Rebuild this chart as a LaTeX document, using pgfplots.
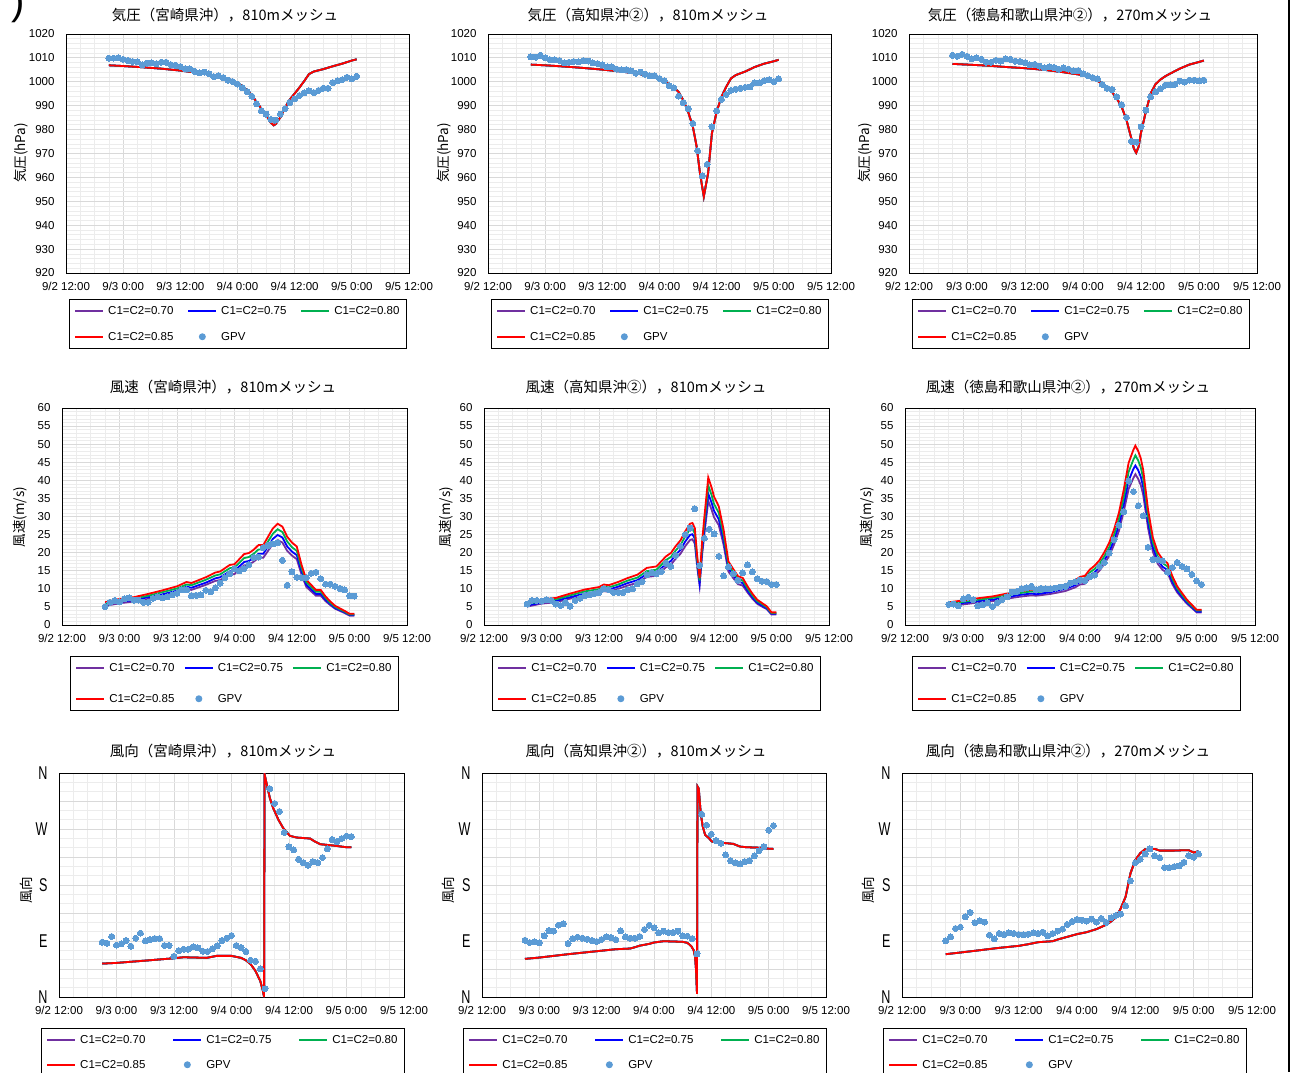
\documentclass[border=0pt]{standalone}
\usepackage{fontspec}
\setmainfont{Liberation Sans}
\newfontfamily\cjk{Noto Sans CJK JP}
\newfontfamily\dirfont[FakeStretch=0.68]{Liberation Sans}
\usepackage{pgfplots}
\usepackage{pgfplotstable}
\pgfplotsset{compat=1.18}
\definecolor{colA}{RGB}{112,48,160}
\definecolor{colB}{RGB}{0,0,255}
\definecolor{colC}{RGB}{0,176,80}
\definecolor{colD}{RGB}{255,0,0}
\definecolor{gpvc}{RGB}{91,155,213}
\definecolor{gmaj}{RGB}{217,217,217}
\definecolor{gmin}{RGB}{236,236,236}

% ---------- GPV (hourly) : a = Miyazaki, b = Kochi2, c = Tokushima-Wakayama2
\pgfplotstableread{
t a b c
9 1009.9 1010.4 1011.1
10 1009.9 1010.3 1010.7
11 1010.1 1011.1 1011.5
12 1009.4 1010.0 1010.7
13 1008.9 1009.3 1009.6
14 1008.5 1009.2 1010.0
15 1008.3 1008.9 1009.4
16 1007.1 1007.9 1008.2
17 1007.8 1008.2 1008.2
18 1007.9 1008.5 1009.0
19 1007.6 1008.3 1008.7
20 1008.2 1008.9 1009.6
21 1008.2 1008.7 1009.4
22 1007.2 1007.9 1008.6
23 1006.9 1007.6 1008.5
24 1006.4 1007.1 1008.0
25 1005.5 1006.2 1007.1
26 1005.4 1006.2 1007.3
27 1004.4 1005.3 1006.6
28 1003.7 1005.0 1005.8
29 1004.1 1005.1 1006.2
30 1003.4 1004.6 1006.0
31 1002.2 1003.6 1005.3
32 1002.6 1004.1 1005.8
33 1001.8 1003.2 1005.3
34 1000.7 1002.5 1004.6
35 1000.1 1002.5 1004.7
36 999.0 1001.4 1003.3
37 997.6 1000.4 1002.6
38 995.9 998.4 1001.8
39 994.0 997.5 1001.2
40 990.8 994.0 998.9
41 987.9 991.3 997.3
42 986.5 988.7 996.8
43 984.3 982.6 993.7
44 984.0 971.2 990.4
45 986.5 960.6 985.1
46 988.8 965.5 975.1
47 991.3 981.2 974.8
48 992.9 987.9 981.2
49 994.3 992.7 988.2
50 995.4 994.7 993.7
51 996.2 996.4 995.8
52 995.5 996.9 997.1
53 996.4 997.3 998.6
54 997.3 997.7 998.7
55 997.3 997.9 998.9
56 999.7 999.6 1000.3
57 1000.5 999.6 999.9
58 1000.9 1000.5 1000.7
59 1001.9 1000.9 1000.7
60 1001.2 1000.1 1000.4
61 1002.3 1001.2 1000.7
}\gpvP

\pgfplotstableread{
t a b c
9 5.1 5.8 5.7
10 6.3 6.8 5.8
11 6.8 6.8 5.3
12 6.4 6.6 7.2
13 7.2 7.0 7.7
14 7.5 6.8 7.0
15 6.9 5.8 5.3
16 6.9 5.4 5.6
17 6.3 6.3 6.1
18 6.3 5.2 5.1
19 7.4 6.8 6.2
20 7.8 7.4 7.1
21 7.5 8.1 7.8
22 7.8 8.3 9.1
23 8.3 8.7 9.3
24 8.8 9.0 10.0
25 9.7 10.0 10.3
26 9.7 9.8 10.7
27 8.1 9.0 9.8
28 8.2 9.0 10.1
29 8.3 9.0 10.0
30 9.6 9.8 10.0
31 9.2 10.0 10.2
32 10.3 11.4 10.5
33 11.6 12.0 10.7
34 13.1 13.9 11.6
35 14.2 14.4 11.9
36 15.5 14.2 12.4
37 15.0 14.8 12.3
38 15.6 17.1 13.3
39 16.7 16.2 13.8
40 18.7 19.3 16.2
41 18.8 21.8 17.3
42 21.4 25.0 19.9
43 22.0 26.8 23.6
44 22.4 32.1 27.6
45 22.7 16.5 31.3
46 17.9 24.0 39.8
47 11.0 26.5 36.9
48 14.7 25.2 33.0
49 13.2 19.0 30.2
50 13.1 13.6 21.5
51 13.1 16.1 18.1
52 14.3 14.2 18.1
53 14.6 12.4 17.7
54 12.8 14.4 14.6
55 11.3 16.6 15.9
56 11.3 14.7 17.3
57 10.7 12.8 16.2
58 10.1 12.1 15.5
59 9.7 12.0 14.0
60 8.1 11.2 12.2
61 8.0 11.2 11.2
}\gpvW

\pgfplotstableread{
t a b c
9 88.1 91.3 90.3
10 86.5 87.6 96.7
11 97.3 88.7 110.2
12 83.3 87.0 112.3
13 85.4 98.3 129.0
14 90.8 106.9 136.0
15 81.7 105.9 119.3
16 94.6 115.5 122.5
17 102.6 117.7 120.4
18 90.3 86.0 99.4
19 92.4 94.0 93.5
20 94.0 96.2 102.1
21 94.0 94.6 100.5
22 82.8 93.0 103.2
23 82.8 90.8 102.1
24 65.6 89.2 100.5
25 74.7 92.4 99.9
26 76.8 96.7 101.0
27 76.8 95.6 103.2
28 80.6 92.4 102.1
29 79.0 106.4 104.2
30 73.6 96.7 98.3
31 73.1 94.6 102.1
32 77.4 94.6 105.9
33 82.2 97.3 109.1
34 90.8 108.5 116.6
35 94.6 115.5 121.4
36 98.9 111.2 124.7
37 82.8 103.2 123.6
38 79.5 105.9 122.0
39 73.1 103.7 125.2
40 59.1 103.7 120.4
41 57.5 105.9 126.3
42 45.1 98.3 119.9
43 13.4 97.8 127.3
44 334.8 94.0 131.1
45 311.1 69.3 133.3
46 298.2 293.9 146.7
47 264.4 276.2 187.0
48 241.3 261.7 216.0
49 236.4 251.5 221.4
50 221.4 247.2 230.0
51 216.0 228.4 238.0
52 211.7 219.2 226.7
53 217.6 215.5 224.1
54 216.0 213.9 208.0
55 224.1 217.6 208.0
56 238.0 219.2 209.6
57 253.1 226.7 210.6
58 249.9 235.3 216.6
59 254.7 241.8 227.3
60 258.5 268.1 224.6
61 257.9 275.6 230.0
}\gpvD

% ---------- model pressure (the four cases coincide)
\pgfplotstableread{
t p
9 1006.9
12 1006.6
16 1006.1
20 1005.5
24 1004.7
28 1003.7
32 1002.3
34 1001.4
36 999.6
37 998.2
38 996.5
39 994.4
40 991.6
41 988.8
42 986.1
43 982.9
43.6 981.8
44 982.3
45 985.1
46 989.3
47 992.6
48 995.1
49 997.6
50 1000.3
51 1003.2
52 1004.3
54 1005.3
56 1006.5
58 1007.6
60 1008.9
61 1009.4
}\prA
\pgfplotstableread{
t p
9 1007.2
12 1006.9
16 1006.4
20 1005.8
24 1005.1
28 1004.3
32 1003.2
36 1001.4
37 1000.3
38 999.0
39 997.6
40 995.8
41 992.3
42 987.5
43 981.2
43.8 972.9
44.5 961.7
45.3 952.0
46.2 961.7
47 978.4
48 987.5
49 993.7
50 997.9
51 1001.4
52 1002.8
54 1004.3
56 1006.2
58 1007.6
60 1008.6
61 1009.2
}\prB
\pgfplotstableread{
t p
9 1007.5
12 1007.2
16 1006.8
20 1006.2
24 1005.7
28 1005.0
32 1004.0
36 1002.8
38 1001.4
40 999.3
41 997.6
42 995.8
43 993.0
44 989.5
45 984.0
46 976.3
46.5 972.2
47 970.3
47.5 972.8
48 978.7
49 987.5
50 995.1
51 999.0
52 1000.9
53 1002.3
54 1003.4
56 1005.5
58 1007.2
60 1008.3
61 1008.9
}\prC

% ---------- model wind speed
\pgfplotstableread{
t c70 c75 c80 c85
9 5.3 5.6 6.0 6.3
12 6.0 6.4 6.8 7.2
15 6.5 6.9 7.3 7.7
18 7.2 7.7 8.1 8.6
21 8.1 8.5 9.1 9.6
24 9.0 9.5 10.1 10.7
26 10.0 10.6 11.2 11.9
27 9.7 10.3 11.0 11.6
30 11.1 11.7 12.5 13.2
32 12.2 12.9 13.7 14.5
33 12.4 13.2 14.0 14.8
35 13.9 14.8 15.7 16.6
36 14.1 15.0 15.9 16.8
38 16.5 17.4 18.5 19.6
39 16.7 17.7 18.8 19.9
40 17.5 18.5 19.7 20.8
41 18.6 19.7 20.9 22.1
42 18.6 19.7 20.9 22.1
43 20.5 21.7 23.1 24.4
44 22.4 23.8 25.2 26.7
45 23.5 24.9 26.5 28.0
46 22.8 24.2 25.7 27.2
47 20.5 21.7 23.1 24.4
48 19.2 20.3 21.5 22.8
49 18.2 19.3 20.5 21.7
50 13.9 14.8 15.7 16.6
51 10.5 11.1 11.8 12.5
52 9.3 9.9 10.5 11.1
53 8.1 8.6 9.2 9.7
54 8.1 8.6 9.2 9.7
55 6.6 7.0 7.5 7.9
56 5.5 5.8 6.1 6.5
57 4.5 4.7 5.0 5.3
58 3.9 4.1 4.3 4.6
59 3.3 3.5 3.7 3.9
60 2.6 2.8 2.9 3.1
61 2.6 2.8 2.9 3.1
}\wsA
\pgfplotstableread{
t c70 c75 c80 c85
9 5.1 5.4 5.8 6.1
12 5.9 6.2 6.6 7.0
15 6.3 6.7 7.1 7.5
18 7.3 7.7 8.2 8.7
21 8.2 8.7 9.3 9.8
24 8.8 9.3 9.9 10.5
25 9.4 10.0 10.6 11.2
26 9.2 9.8 10.4 11.0
28 10.0 10.6 11.2 11.9
30 10.9 11.6 12.3 13.0
32 11.7 12.4 13.1 13.9
34 13.3 14.1 14.9 15.8
36 13.6 14.4 15.3 16.2
37 14.8 15.7 16.6 17.6
38 16.0 16.9 18.0 19.0
39 16.7 17.7 18.8 19.9
40 18.3 19.4 20.6 21.8
41 19.7 20.8 22.1 23.4
42 21.8 23.1 24.5 25.9
43 23.5 24.9 26.5 28.0
43.5 23.7 25.1 26.6 28.2
44 22.5 23.9 25.3 26.8
44.5 16.0 16.9 18.0 19.0
45 10.9 11.6 12.3 13.0
45.5 19.1 20.2 21.5 22.7
46 25.2 26.7 28.4 30.0
46.8 34.3 36.3 38.6 40.8
47.5 31.9 33.8 35.9 38.0
48 29.8 31.6 33.5 35.5
49 27.6 29.2 31.0 32.8
50 22.2 23.5 24.9 26.4
51 14.8 15.7 16.6 17.6
52 13.0 13.8 14.6 15.5
53 11.3 12.0 12.8 13.5
54 10.9 11.6 12.3 13.0
55 9.0 9.5 10.1 10.7
56 7.3 7.7 8.2 8.7
57 5.9 6.2 6.6 7.0
58 5.1 5.4 5.8 6.1
59 4.4 4.6 4.9 5.2
60 2.9 3.1 3.3 3.5
61 2.9 3.1 3.3 3.5
}\wsB
\pgfplotstableread{
t c70 c75 c80 c85
9 5.3 5.6 6.0 6.3
12 5.7 6.1 6.4 6.8
15 6.2 6.6 7.0 7.4
18 6.6 7.0 7.5 7.9
21 7.3 7.7 8.2 8.7
24 7.9 8.4 8.9 9.4
26 8.2 8.7 9.3 9.8
27 8.1 8.5 9.1 9.6
30 8.6 9.1 9.6 10.2
33 9.4 10.0 10.6 11.2
35 10.4 11.0 11.7 12.4
36 11.2 11.8 12.6 13.3
37 11.4 12.1 12.9 13.6
38 12.9 13.6 14.5 15.3
39 13.8 14.6 15.5 16.4
40 15.0 15.9 16.9 17.9
41 16.9 17.9 19.0 20.1
42 19.1 20.2 21.5 22.7
43 22.2 23.5 24.9 26.4
44 26.0 27.6 29.3 31.0
45 31.4 33.3 35.3 37.4
46 37.6 39.9 42.3 44.8
47 40.7 43.2 45.8 48.5
47.4 41.7 44.1 46.9 49.6
48 40.3 42.7 45.4 48.0
48.5 38.7 41.0 43.6 46.1
49 36.0 38.2 40.5 42.9
50 26.8 28.4 30.1 31.9
51 20.2 21.4 22.8 24.1
52 16.9 17.9 19.0 20.1
53 15.2 16.1 17.1 18.1
54 14.4 15.2 16.2 17.1
55 11.3 12.0 12.8 13.5
56 9.0 9.5 10.1 10.7
57 7.4 7.8 8.3 8.8
58 5.9 6.2 6.6 7.0
59 4.7 5.0 5.3 5.6
60 3.5 3.7 4.0 4.2
61 3.5 3.7 4.0 4.2
}\wsC

% ---------- model wind direction (the four cases coincide)
\pgfplotstableread{
t d
9 53.7
12 54.8
19 59.1
24 62.3
26 63.9
30.8 62.9
32.9 66.1
36 66.1
37 64.5
38 62.9
39 59.1
40 52.7
41 41.9
42 25.8
42.5 11.8
42.8 0
42.9 358
43.3 344
44 320
44.7 303.6
45.8 284.8
46.8 271.4
48.2 259
49.6 256.3
52.4 254.7
53.4 249.9
54.5 245.6
57.3 243.4
60 240.7
61 240.7
}\wdA
\pgfplotstableread{
t d
9 61.3
12 63.4
18 68.8
24 73.6
28 76.8
31 77.9
32 80.0
33 82.5
35 85.4
36 87.6
38 89.7
40 89.2
42 88.7
43 87.0
43.8 81.7
44.3 75.2
44.6 64.5
44.8 43.0
45.0 5.0
45.1 338.5
45.37 335
45.78 295.5
46.2 274
46.7 260.6
47.5 255.2
48.1 249.9
49.1 248.3
51.2 247.2
52.6 246.1
54 241.8
55.4 240.7
57.5 240.2
59.6 238.6
61 238.0
}\wdB
\pgfplotstableread{
t d
9 68.8
12 71.5
16 75.2
20 79.0
24 82.2
26 84.9
28 88.1
30 89.2
31 89.7
32 92.4
34 96.7
36 101.0
38 104.2
40 109.1
42 116.1
43 121.4
44 127.9
45 142.4
46 161.2
47 198.8
48 220.3
49 231.1
50 237.5
51 238.0
52 238.0
53 235.3
54 235.3
56 235.3
58 235.9
59 235.9
60 232.2
61 234.3
}\wdC

\pgfplotsset{
  legend image code/.code={\draw[#1] (0pt,0pt) -- (28pt,0pt);},
  panel/.style={
    scale only axis, anchor=north west,
    xmin=0, xmax=72,
    xtick={0,12,...,72},
    xticklabels={9/2 12:00,9/3 0:00,9/3 12:00,9/4 0:00,9/4 12:00,9/5 0:00,9/5 12:00},
    minor x tick num=3,
    grid=both,
    major grid style={draw=gmaj, line width=0.9pt},
    minor grid style={draw=gmin, line width=0.7pt},
    major tick length=0pt, minor tick length=0pt,
    axis line style={draw=black, line width=0.9pt},
    tick label style={font=\fontsize{11.5}{13}\selectfont},
    xticklabel style={yshift=-6pt},
    yticklabel style={xshift=-8pt},
    /pgf/number format/assume math mode=true,
    /pgf/number format/1000 sep={},
    legend columns=3,
    legend cell align=left,
    legend style={draw=black, line width=0.9pt, anchor=north west,
      font=\fontsize{11.5}{13}\selectfont,
      inner xsep=5pt, inner ysep=5pt,
      nodes={inner sep=2pt},
      /tikz/every odd column/.append style={column sep=2pt}},
  },
  leg/.style n args={4}{legend style={at={(#1,#2)},
      /tikz/every even column/.append style={column sep=#3}, row sep=#4}},
  pres/.style={ymin=920, ymax=1020, ytick={920,930,...,1020}, minor y tick num=4},
  wind/.style={ymin=0, ymax=60, ytick={0,5,...,60}, minor y tick num=4},
  dirn/.style={ymin=0, ymax=360, ytick={0,45,...,360},
    yticklabels={N,,E,,S,,W,,N}, minor y tick num=2,
    yticklabel style={font=\dirfont\fontsize{18.5}{18.5}\selectfont}},
  lA/.style={draw=colA, line width=1.8pt},
  lB/.style={draw=colB, line width=1.8pt},
  lC/.style={draw=colC, line width=1.8pt},
  lD/.style={draw=colD, line width=1.8pt},
  gpvm/.style={only marks, mark=*, mark size=3pt,
    mark options={draw=gpvc, fill=gpvc, line width=0pt},
    legend image code/.code={\fill[gpvc] (14pt,0pt) circle (3pt);}},
}

\newcommand\legs{\legend{C1=C2=0.70,C1=C2=0.75,C1=C2=0.80,C1=C2=0.85,GPV}}

\begin{document}
\begin{tikzpicture}
\useasboundingbox (0,0) rectangle (1294pt,-1072pt);

% ================= Row 1 : pressure
\begin{axis}[panel, pres, at={(66pt,-34pt)}, width=343pt, height=239pt,
  leg={0.0087}{-0.1088}{12pt}{12pt}]
\addplot[lA] table[x=t,y=p] {\prA};
\addplot[lB] table[x=t,y=p] {\prA};
\addplot[lC] table[x=t,y=p] {\prA};
\addplot[lD] table[x=t,y=p] {\prA};
\addplot[gpvm] table[x=t,y=a] {\gpvP};
\legs
\end{axis}
\begin{axis}[panel, pres, at={(488pt,-34pt)}, width=343pt, height=239pt,
  leg={0.0087}{-0.1088}{12pt}{12pt}]
\addplot[lA] table[x=t,y=p] {\prB};
\addplot[lB] table[x=t,y=p] {\prB};
\addplot[lC] table[x=t,y=p] {\prB};
\addplot[lD] table[x=t,y=p] {\prB};
\addplot[gpvm] table[x=t,y=b] {\gpvP};
\legs
\end{axis}
\begin{axis}[panel, pres, at={(909pt,-34pt)}, width=348pt, height=239pt,
  leg={0.0086}{-0.1088}{12pt}{12pt}]
\addplot[lA] table[x=t,y=p] {\prC};
\addplot[lB] table[x=t,y=p] {\prC};
\addplot[lC] table[x=t,y=p] {\prC};
\addplot[lD] table[x=t,y=p] {\prC};
\addplot[gpvm] table[x=t,y=c] {\gpvP};
\legs
\end{axis}

% ================= Row 2 : wind speed
\begin{axis}[panel, wind, at={(62pt,-408pt)}, width=345pt, height=217pt,
  leg={0.0232}{-0.1429}{7.5pt}{17pt}]
\addplot[lA] table[x=t,y=c70] {\wsA};
\addplot[lB] table[x=t,y=c75] {\wsA};
\addplot[lC] table[x=t,y=c80] {\wsA};
\addplot[lD] table[x=t,y=c85] {\wsA};
\addplot[gpvm] table[x=t,y=a] {\gpvW};
\legs
\end{axis}
\begin{axis}[panel, wind, at={(484pt,-408pt)}, width=345pt, height=217pt,
  leg={0.0232}{-0.1429}{7.5pt}{17pt}]
\addplot[lA] table[x=t,y=c70] {\wsB};
\addplot[lB] table[x=t,y=c75] {\wsB};
\addplot[lC] table[x=t,y=c80] {\wsB};
\addplot[lD] table[x=t,y=c85] {\wsB};
\addplot[gpvm] table[x=t,y=b] {\gpvW};
\legs
\end{axis}
\begin{axis}[panel, wind, at={(905pt,-408pt)}, width=350pt, height=217pt,
  leg={0.02}{-0.1429}{7.5pt}{17pt}]
\addplot[lA] table[x=t,y=c70] {\wsC};
\addplot[lB] table[x=t,y=c75] {\wsC};
\addplot[lC] table[x=t,y=c80] {\wsC};
\addplot[lD] table[x=t,y=c85] {\wsC};
\addplot[gpvm] table[x=t,y=c] {\gpvW};
\legs
\end{axis}

% ================= Row 3 : wind direction
\begin{axis}[panel, dirn, at={(59pt,-773pt)}, width=345pt, height=224pt,
  leg={-0.0522}{-0.1384}{25pt}{11pt}]
\addplot[lA] table[x=t,y=d] {\wdA};
\addplot[lB] table[x=t,y=d] {\wdA};
\addplot[lC] table[x=t,y=d] {\wdA};
\addplot[lD] table[x=t,y=d] {\wdA};
\addplot[gpvm] table[x=t,y=a] {\gpvD};
\legs
\end{axis}
\begin{axis}[panel, dirn, at={(482pt,-773pt)}, width=344pt, height=224pt,
  leg={-0.0552}{-0.1384}{25pt}{11pt}]
\addplot[lA] table[x=t,y=d] {\wdB};
\addplot[lB] table[x=t,y=d] {\wdB};
\addplot[lC] table[x=t,y=d] {\wdB};
\addplot[lD] table[x=t,y=d] {\wdB};
\addplot[gpvm] table[x=t,y=b] {\gpvD};
\legs
\end{axis}
\begin{axis}[panel, dirn, at={(902pt,-773pt)}, width=350pt, height=224pt,
  leg={-0.0543}{-0.1384}{25pt}{11pt}]
\addplot[lA] table[x=t,y=d] {\wdC};
\addplot[lB] table[x=t,y=d] {\wdC};
\addplot[lC] table[x=t,y=d] {\wdC};
\addplot[lD] table[x=t,y=d] {\wdC};
\addplot[gpvm] table[x=t,y=c] {\gpvD};
\legs
\end{axis}

% ================= titles
\begin{scope}[every node/.style={font=\cjk\fontsize{14.5}{15}\selectfont}]
\node at (225pt,-15pt) {気圧（宮崎県沖），810mメッシュ};
\node at (648pt,-15pt) {気圧（高知県沖②），810mメッシュ};
\node at (1070pt,-15pt) {気圧（徳島和歌山県沖②），270mメッシュ};
\node at (223pt,-387pt) {風速（宮崎県沖），810mメッシュ};
\node at (646pt,-387pt) {風速（高知県沖②），810mメッシュ};
\node at (1068pt,-387pt) {風速（徳島和歌山県沖②），270mメッシュ};
\node at (223pt,-751pt) {風向（宮崎県沖），810mメッシュ};
\node at (646pt,-751pt) {風向（高知県沖②），810mメッシュ};
\node at (1068pt,-751pt) {風向（徳島和歌山県沖②），270mメッシュ};
\end{scope}
% ================= y labels
\begin{scope}[every node/.style={font=\cjk\fontsize{13.5}{14}\selectfont, rotate=90}]
\node at (21pt,-153pt) {気圧(hPa)};
\node at (444pt,-153pt) {気圧(hPa)};
\node at (865pt,-153pt) {気圧(hPa)};
\node at (20pt,-517pt) {風速(m/s)};
\node at (446pt,-517pt) {風速(m/s)};
\node at (867pt,-517pt) {風速(m/s)};
\node at (26pt,-890pt) {風向};
\node at (448pt,-890pt) {風向};
\node at (868pt,-890pt) {風向};
\end{scope}
% ================= frame remnants
\node[font=\fontsize{40}{40}\selectfont] at (18pt,-4pt) {)};
\draw[line width=2pt] (1289pt,0pt) -- (1289pt,-1072pt);
\end{tikzpicture}
\end{document}
